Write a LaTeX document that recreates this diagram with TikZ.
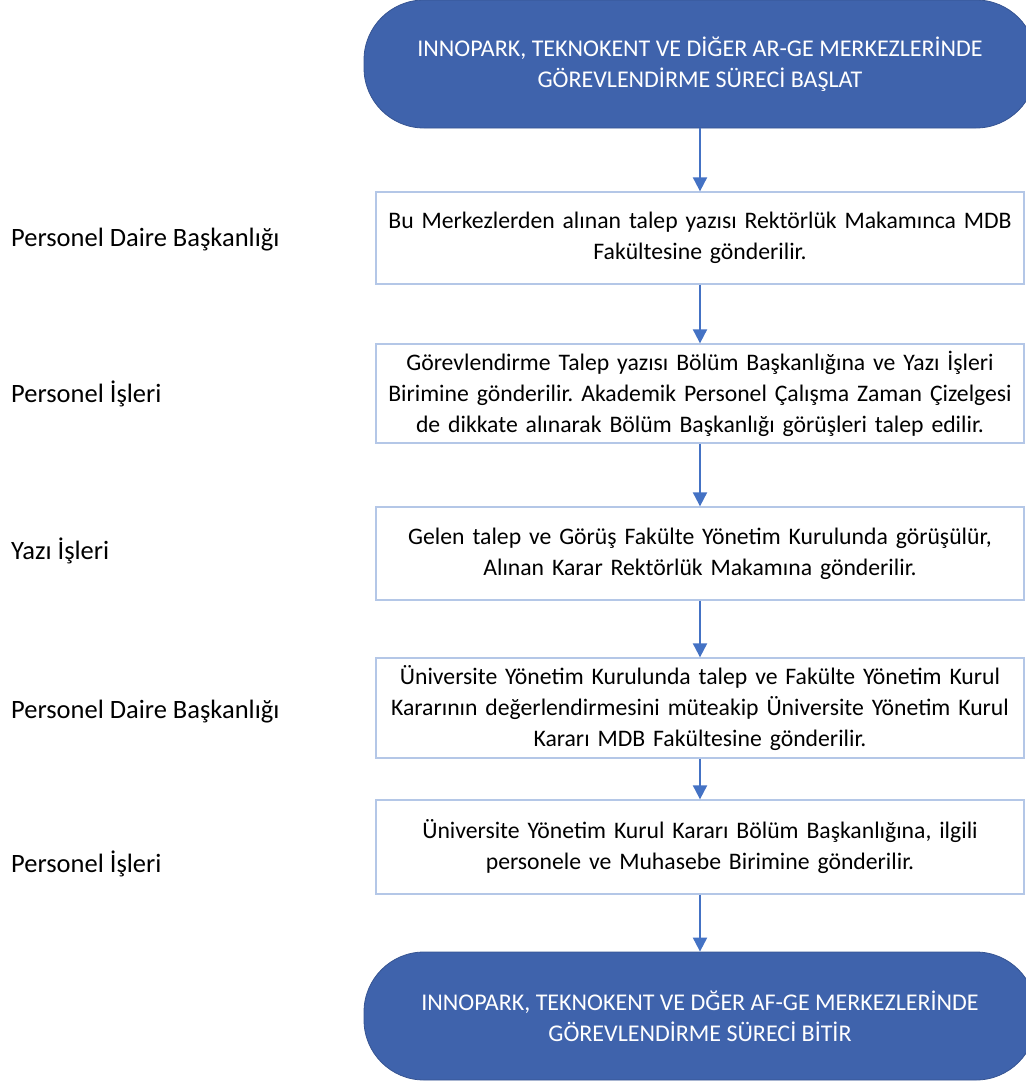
\documentclass[tikz,border=0pt]{standalone}
\usepackage{fontspec}
\setmainfont{Carlito}
\usetikzlibrary{arrows.meta}
\frenchspacing

\definecolor{termblue}{RGB}{63,99,172}
\definecolor{boxline}{RGB}{180,199,231}
\definecolor{arrowblue}{RGB}{68,114,196}
\newcommand{\flowfont}{\fontsize{24}{31}\selectfont}
\newcommand{\stepfont}{\fontsize{23.7}{31}\selectfont}
\newcommand{\unitfont}{\fontsize{26.5}{32}\selectfont}

\begin{document}
\begin{tikzpicture}[x=1pt,y=-1pt,
  terminal/.style={fill=termblue, draw=termblue!85!black, line width=0.8pt,
    rounded corners=60pt, minimum width=672pt, minimum height=128pt,
    text=white, align=center, font=\flowfont},
  stepbox/.style={draw=boxline, line width=1.3pt, minimum width=648pt,
    text width=646pt, align=center, inner sep=0pt, font=\stepfont},
  unit/.style={anchor=west, inner sep=0pt, font=\unitfont},
  flow/.style={draw=arrowblue, line width=2pt, -{Triangle[length=14pt,width=14pt]}}]
  % Frame
  \useasboundingbox (0,0) rectangle (1025,1081);

  % Start and end
  \node[terminal] (start) at (700,64) {INNOPARK, TEKNOKENT VE DİĞER AR-GE MERKEZLERİNDE\\GÖREVLENDİRME SÜRECİ BAŞLAT};
  \node[terminal] (stop) at (700,1016) {INNOPARK, TEKNOKENT VE DĞER AF-GE MERKEZLERİNDE\\GÖREVLENDİRME SÜRECİ BİTİR};

  % Process steps
  \node[stepbox, minimum height=92pt] (talep) at (700,238) {Bu Merkezlerden alınan talep yazısı Rektörlük Makamınca MDB\\Fakültesine gönderilir.};
  \node[stepbox, minimum height=99pt] (gorus) at (700,393.5) {Görevlendirme Talep yazısı Bölüm Başkanlığına ve Yazı İşleri\\Birimine gönderilir. Akademik Personel Çalışma Zaman Çizelgesi\\de dikkate alınarak Bölüm Başkanlığı görüşleri talep edilir.};
  \node[stepbox, minimum height=93pt] (kurul) at (700,553.5) {Gelen talep ve Görüş Fakülte Yönetim Kurulunda görüşülür,\\Alınan Karar Rektörlük Makamına gönderilir.};
  \node[stepbox, minimum height=100pt] (univ) at (700,708) {Üniversite Yönetim Kurulunda talep ve Fakülte Yönetim Kurul\\Kararının değerlendirmesini müteakip Üniversite Yönetim Kurul\\Kararı MDB Fakültesine gönderilir.};
  \node[stepbox, minimum height=94pt] (karar) at (700,847) {Üniversite Yönetim Kurul Kararı Bölüm Başkanlığına, ilgili\\personele ve Muhasebe Birimine gönderilir.};

  % Responsible units
  \node[unit] (u1) at (11,240) {Personel Daire Başkanlığı};
  \node[unit] (u2) at (11,394) {Personel İşleri};
  \node[unit] (u3) at (11,551) {Yazı İşleri};
  \node[unit] (u4) at (11,712) {Personel Daire Başkanlığı};
  \node[unit] (u5) at (11,864) {Personel İşleri};

  % Arrows
  \draw[flow] (start) -- (talep);
  \draw[flow] (talep) -- (gorus);
  \draw[flow] (gorus) -- (kurul);
  \draw[flow] (kurul) -- (univ);
  \draw[flow] (univ) -- (karar);
  \draw[flow] (karar) -- (stop);
\end{tikzpicture}
\end{document}
